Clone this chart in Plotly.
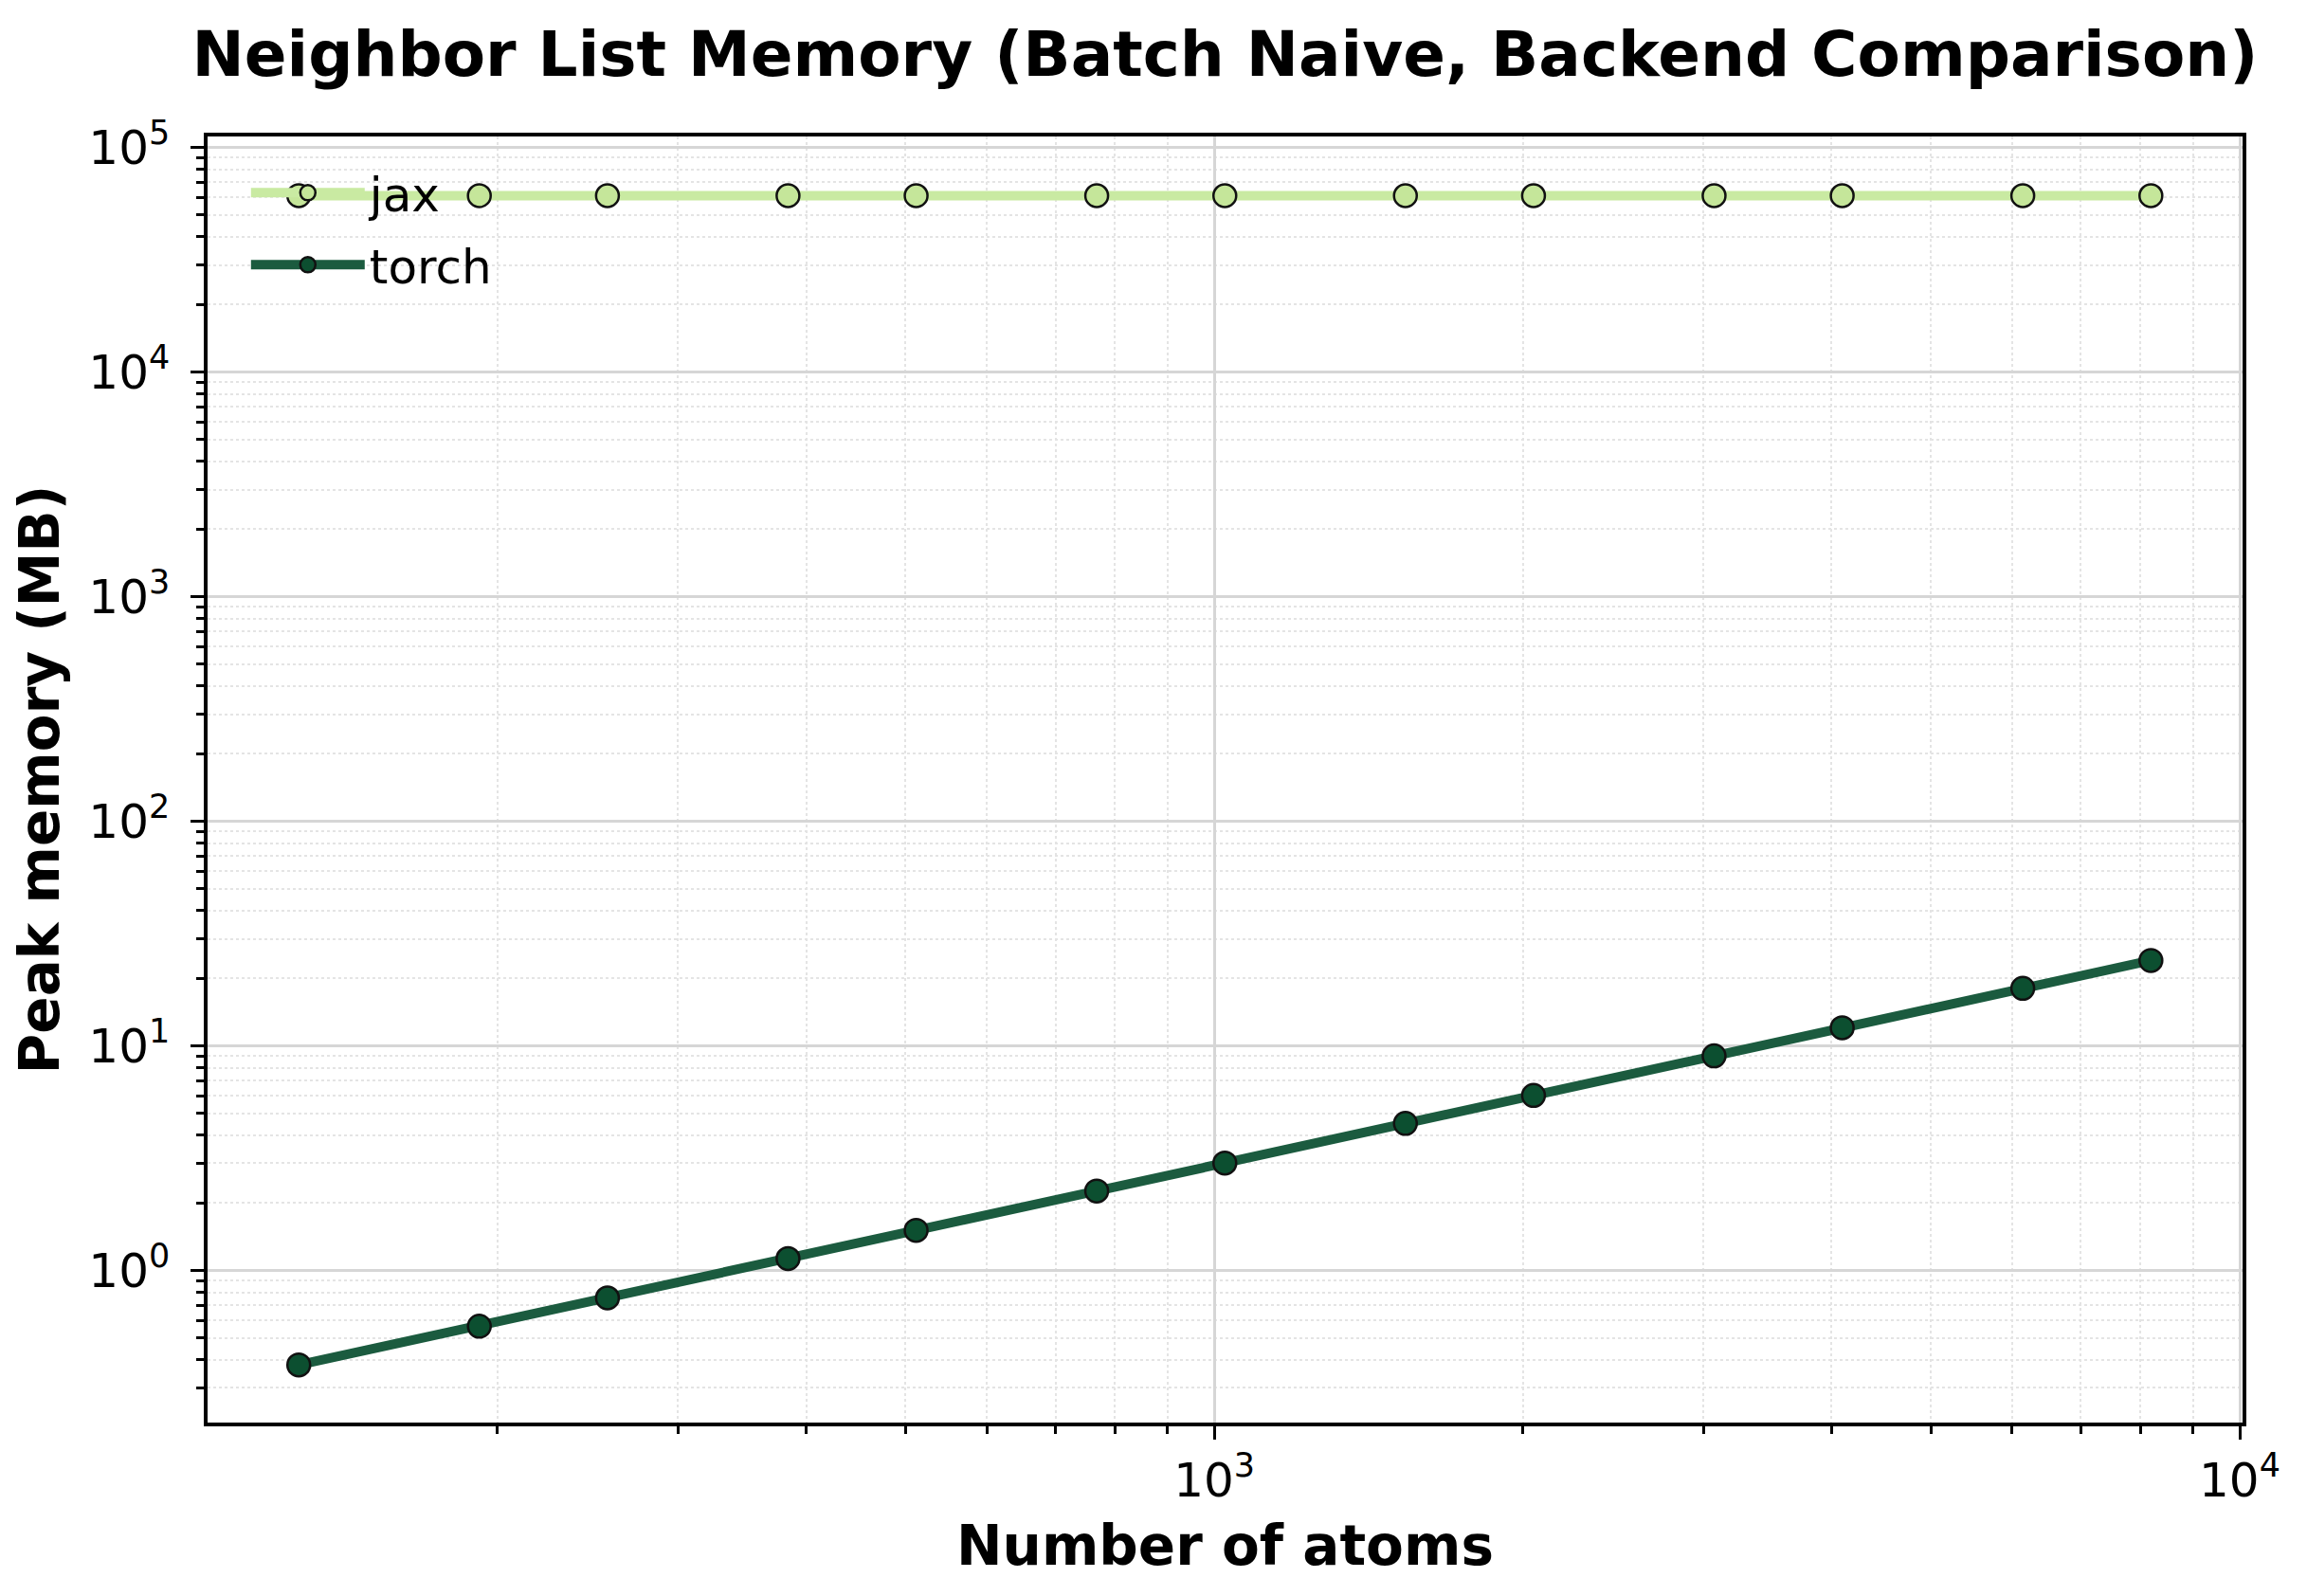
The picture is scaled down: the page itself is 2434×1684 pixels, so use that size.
import numpy as np
import plotly.graph_objects as go

n_atoms = [128, 192, 256, 384, 512, 768, 1024, 1536, 2048, 3072, 4096, 6144, 8192]
jax_mb = [61000, 61000, 61000, 61000, 61000, 61000, 61000, 61000, 61000, 61000, 61000, 61000, 61000]
torch_mb = [0.38, 0.565, 0.755, 1.13, 1.51, 2.26, 3.01, 4.52, 6.02, 9.03, 12.05, 18.05, 24.0]

x_major = [1000, 10000]
x_major_text = ["10<sup>3</sup>", "10<sup>4</sup>"]
y_major = [1, 10, 100, 1000, 10000, 100000]
y_major_text = ["10<sup>0</sup>", "10<sup>1</sup>", "10<sup>2</sup>", "10<sup>3</sup>", "10<sup>4</sup>", "10<sup>5</sup>"]

def minor_vals(lo, hi):
    out = []
    for k in range(lo, hi + 1):
        for m in range(2, 10):
            out.append(m * 10.0 ** k)
    return out

FONT = "DejaVu Sans"
W, H = 2426, 1676
L, R, T, B = 211, 68, 136, 183

fig = go.Figure()
fig.add_trace(go.Scatter(
    x=n_atoms, y=jax_mb, name="jax", mode="lines+markers", legendgroup="jax",
    line=dict(color="#c9eaa2", width=10),
    marker=dict(size=24, color="#c5e69a", line=dict(color="#111111", width=2.5)),
))
fig.add_trace(go.Scatter(
    x=n_atoms, y=torch_mb, name="torch", mode="lines+markers", legendgroup="torch",
    line=dict(color="#1b5b3f", width=10),
    marker=dict(size=24, color="#0c4f30", line=dict(color="#111111", width=2.5)),
))

axis_common = dict(
    type="log", showline=True, linecolor="black", linewidth=3.5, mirror=True,
    ticks="outside", ticklen=14, tickwidth=3, tickcolor="black",
    showgrid=True, gridcolor="#d6d6d6", gridwidth=2.5, zeroline=False,
    tickfont=dict(family=FONT, size=50, color="black"),
    tickmode="array",
)

fig.update_xaxes(
    **axis_common,
    range=[np.log10(104.3), np.log10(10064)],
    tickvals=x_major, ticktext=x_major_text,
    minor=dict(tickmode="array", tickvals=minor_vals(2, 3), ticks="outside", ticklen=8,
               tickwidth=2.5, tickcolor="black", showgrid=True, gridcolor="#e4e4e4",
               griddash="dot", gridwidth=2),
    title=dict(text="<b>Number of atoms</b>", font=dict(family=FONT, size=58, color="black"), standoff=22),
)
fig.update_yaxes(
    **axis_common,
    range=[-0.677, 5.049],
    tickvals=y_major, ticktext=y_major_text,
    minor=dict(tickmode="array", tickvals=minor_vals(-1, 4), ticks="outside", ticklen=8,
               tickwidth=2.5, tickcolor="black", showgrid=True, gridcolor="#e4e4e4",
               griddash="dot", gridwidth=2),
    title=dict(text="<b>Peak memory (MB)</b>", font=dict(family=FONT, size=58, color="black"), standoff=20),
    ticklabelstandoff=12,
)

fig.update_layout(
    width=W, height=H,
    margin=dict(l=L, r=R, t=T, b=B),
    paper_bgcolor="white", plot_bgcolor="white",
    title=dict(text="<b>Neighbor List Memory (Batch Naive, Backend Comparison)</b>",
               font=dict(family=FONT, size=66, color="black"),
               x=(1292.5 - 8) / W, xanchor="center", y=1 - (57 - 8) / H, yanchor="middle"),
    legend=dict(x=0.019, y=0.985, xanchor="left", yanchor="top",
                font=dict(family=FONT, size=50, color="black"),
                bgcolor="rgba(0,0,0,0)", itemwidth=120,
                traceorder="grouped", tracegroupgap=8),
    showlegend=True,
)

fig.write_html("out.html")
